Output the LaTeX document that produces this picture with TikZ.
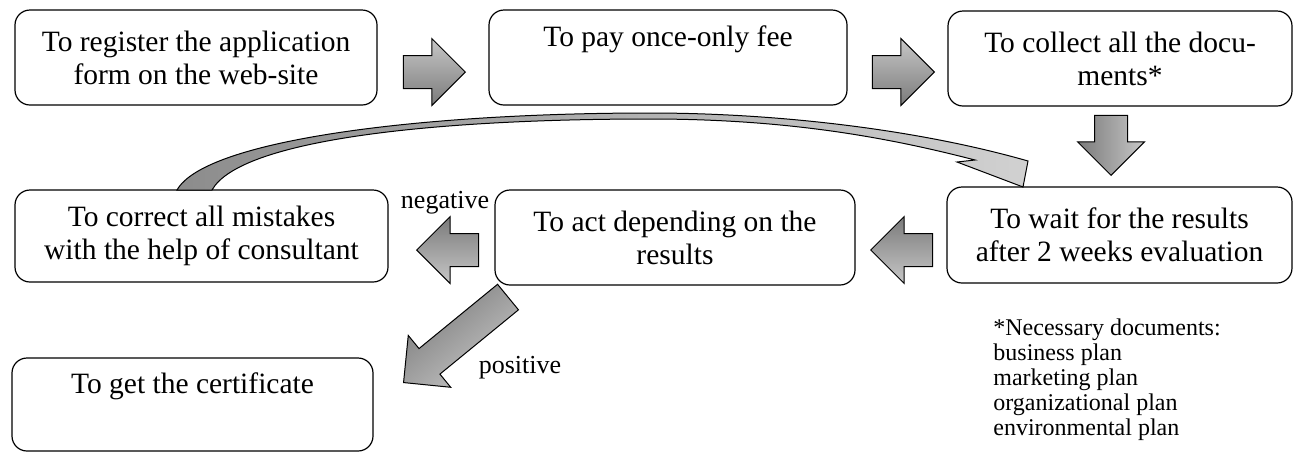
\documentclass[tikz,border=0pt]{standalone}
\usepackage{fontspec}
\setmainfont{Liberation Serif}
\usetikzlibrary{shapes.arrows}
\tikzset{
  stage/.style={draw,rounded corners=7.5pt,line width=0.6pt,align=center,
    inner sep=0pt,font=\fontsize{14.75}{16.5}\selectfont},
  blockarr/.style={single arrow,draw,line width=0.5pt,inner sep=0pt,
    text height=16pt,text depth=0pt,text width=0pt,anchor=tip,
    minimum width=33pt,single arrow head extend=8.5pt,minimum height=31pt,
    left color=black!22,right color=black!52,rotate=#1,shading angle=#1},
  blockarr/.default=0,
  lab/.style={font=\fontsize{13}{15}\selectfont},
}
\begin{document}
\begin{tikzpicture}[x=0.5pt,y=-0.5pt]
\useasboundingbox (0,0) rectangle (1295,452);
% first row
\node[stage,minimum width=181pt,minimum height=47.5pt] (reg) at (196,57.5) {To register the application\\form on the web-site};
\node[stage,minimum width=179pt,minimum height=47.5pt] (pay) at (668,57.5) {To pay once-only fee\\\strut};
\node[stage,minimum width=172pt,minimum height=47.5pt] (coll) at (1120,58.5) {To collect all the docu-\\ments*};
% second row
\node[stage,minimum width=186.5pt,minimum height=46pt] (corr) at (201.5,236) {To correct all mistakes\\with the help of consultant};
\node[stage,minimum width=180pt,minimum height=47.5pt] (act) at (675,237.5) {To act depending on the\\results};
\node[stage,minimum width=172.5pt,minimum height=48pt] (wait) at (1119.5,235) {To wait for the results\\after 2 weeks evaluation};
% last row
\node[stage,minimum width=180.5pt,minimum height=46.5pt] (cert) at (192.5,404.5) {To get the certificate\\\strut};
% block arrows (placed by their tips)
\node[blockarr] (a1) at (466,72) {};
\node[blockarr] (a2) at (935,72) {};
\node[blockarr=-90,minimum height=30pt] (a3) at (1111,176) {};
\node[blockarr=180] (a4) at (870,250) {};
\node[blockarr=180] (a5) at (416,250) {};
\node[blockarr=219.3,minimum height=67.5pt] (a6) at (403,383) {};
% back to waiting
\path[draw,line width=0.5pt,left color=black!45,right color=black!18]
  (177,190) .. controls (205,140) and (420,113) .. (650,113)
  .. controls (780,113) and (920,130) .. (1028,161) -- (1023,187) -- (957,162) -- (975,160)
  .. controls (890,138) and (790,119) .. (650,119)
  .. controls (430,119) and (240,140) .. (212,190) -- cycle;
\node[lab] (neg) at (445,203) {negative};
\node[lab] (pos) at (520,368) {positive};
\node[anchor=north west,inner sep=0pt,align=left,font=\fontsize{12}{12.5}\selectfont] (docs) at (993,318)
  {*Necessary documents:\\business plan\\marketing plan\\organizational plan\\environmental plan};
\end{tikzpicture}
\end{document}
